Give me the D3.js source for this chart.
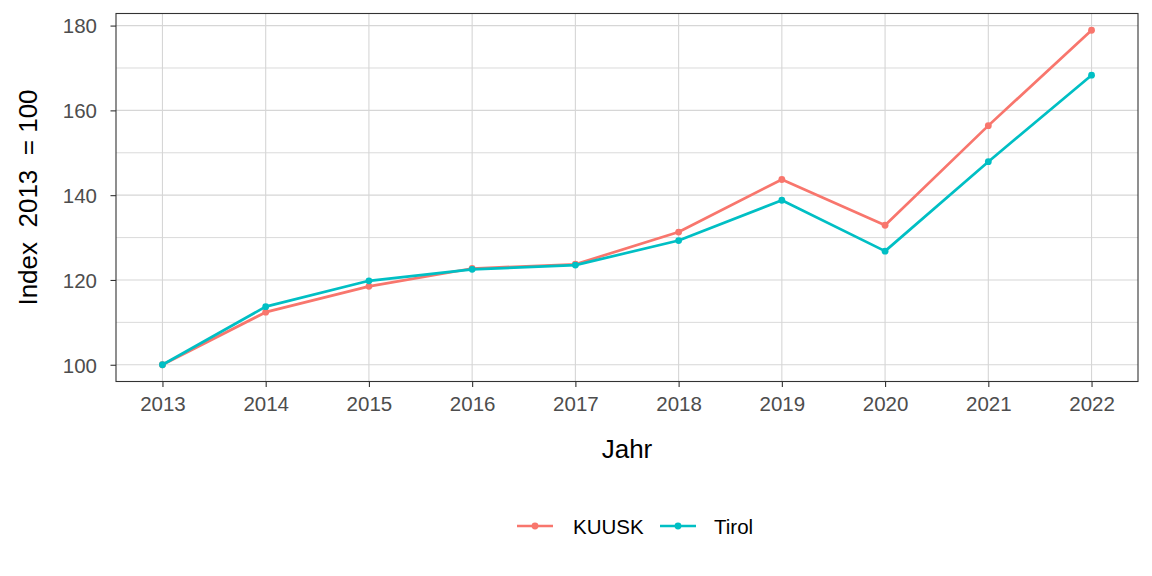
<!DOCTYPE html>
<html><head><meta charset="utf-8">
<script src="https://cdn.jsdelivr.net/npm/d3@7"></script>
<style>body{margin:0;background:#fff}svg{display:block;font-family:"Liberation Sans",Arial,sans-serif}</style>
</head><body><svg id="c" width="1152" height="576"></svg>
<script>
const years = [2013,2014,2015,2016,2017,2018,2019,2020,2021,2022];
const kuusk = [100,112.4,118.5,122.7,123.7,131.3,143.7,132.9,156.4,178.9];
const tirol = [100,113.7,119.8,122.5,123.5,129.3,138.8,126.8,147.9,168.3];
const seriesNames = ["KUUSK","Tirol"];
const seriesColors = ["#F8766D","#00BFC4"];
const yTicks = [100,120,140,160,180];
const yMinor = [110,130,150,170];

const svg = d3.select("#c");
const L=116,R=1138,T=13.5,B=381.5;
const x = d3.scaleLinear().domain([2013-0.45,2022+0.45]).range([L,R]);
const y = d3.scaleLinear().domain([96.05,182.85]).range([B,T]);

const g = svg.append("g");
g.selectAll(".ymin").data(yMinor).join("line").attr("x1",L).attr("x2",R)
 .attr("y1",d=>y(d)).attr("y2",d=>y(d)).attr("stroke","#d6d6d6").attr("stroke-width",0.9);
g.selectAll(".ymaj").data(yTicks).join("line").attr("x1",L).attr("x2",R)
 .attr("y1",d=>y(d)).attr("y2",d=>y(d)).attr("stroke","#d6d6d6").attr("stroke-width",1.1);
g.selectAll(".xmaj").data(years).join("line").attr("y1",T).attr("y2",B)
 .attr("x1",d=>x(d)).attr("x2",d=>x(d)).attr("stroke","#d6d6d6").attr("stroke-width",1.1);

const data = [kuusk,tirol];
const line = d3.line().x((d,i)=>x(years[i])).y(d=>y(d));
data.forEach((s,k)=>{
  svg.append("path").datum(s).attr("d",line).attr("fill","none")
   .attr("stroke",seriesColors[k]).attr("stroke-width",2.7).attr("stroke-linejoin","round");
  svg.selectAll(null).data(s).join("circle").attr("cx",(d,i)=>x(years[i])).attr("cy",d=>y(d))
   .attr("r",3.4).attr("fill",seriesColors[k]);
});

svg.append("rect").attr("x",L).attr("y",T).attr("width",R-L).attr("height",B-T)
 .attr("fill","none").attr("stroke","#333").attr("stroke-width",1.1);

const xa = svg.append("g").attr("transform",`translate(0,${B})`)
 .call(d3.axisBottom(x).tickValues(years).tickFormat(d3.format("d")).tickSize(5.5));
const ya = svg.append("g").attr("transform",`translate(${L},0)`)
 .call(d3.axisLeft(y).tickValues(yTicks).tickSize(5.5));
[xa,ya].forEach(a=>{
  a.select(".domain").remove();
  a.selectAll(".tick line").attr("stroke","#333").attr("stroke-width",1.1);
  a.selectAll(".tick text").attr("fill","#4d4d4d").style("font-size","20.5px").style("font-family","Liberation Sans, Arial, sans-serif");
});
xa.selectAll(".tick text").attr("y",29.5).attr("dy",0);
ya.selectAll(".tick text").attr("x",-19).attr("dy","0.36em");

svg.append("text").attr("x",(L+R)/2).attr("y",458).attr("text-anchor","middle")
 .style("font-size","26px").attr("fill","#000").text("Jahr");
svg.append("text").attr("transform",`translate(37,${(T+B)/2}) rotate(-90)`).attr("text-anchor","middle")
 .style("font-size","26px").attr("fill","#000").attr("xml:space","preserve").style("white-space","pre").text("Index  2013  = 100");

const legX=[517,660];
const legTX=[56,54];
seriesNames.forEach((n,k)=>{
  const lg = svg.append("g").attr("transform",`translate(${legX[k]},526)`);
  lg.append("line").attr("x1",0).attr("x2",36).attr("stroke",seriesColors[k]).attr("stroke-width",2.7);
  lg.append("circle").attr("cx",18).attr("r",3.4).attr("fill",seriesColors[k]);
  lg.append("text").attr("x",legTX[k]).attr("y",7.5).style("font-size","20.5px").attr("fill","#000").text(n);
});
</script></body></html>
